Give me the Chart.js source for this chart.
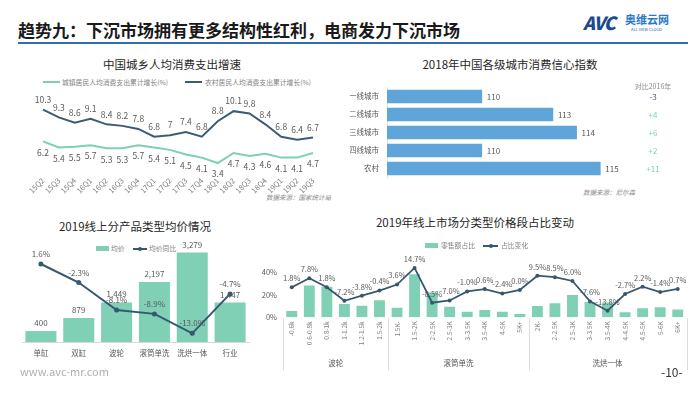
<!DOCTYPE html>
<html>
<head>
<meta charset="utf-8">
<script src="https://cdn.jsdelivr.net/npm/chart.js@4/dist/chart.umd.min.js"></script>
<style>
  body { margin: 0; width: 700px; height: 394px; position: relative; overflow: hidden; background: #fff;
         font-family: "Noto Sans CJK SC", "Noto Sans", sans-serif; color: #404040; }
  .t { position: absolute; white-space: nowrap; line-height: 1; }
  .box { position: absolute; }
  .title { font-size: 11.5px; color: #262626; text-align: center; }
  .lg { font-size: 6.8px; color: #7f7f7f; }
  .src { font-size: 6.5px; color: #8c8c8c; font-style: italic; }
  .mark { position: absolute; }
</style>
</head>
<body>
<!-- 页眉 -->
<div class="t" style="left:18px;top:21px;font-size:17px;font-weight:bold;color:#1a1a1a;">趋势九：下沉市场拥有更多结构性红利，电商发力下沉市场</div>
<div class="t" style="left:583px;top:13px;font-size:18px;font-weight:900;font-style:italic;color:#1b4a8e;letter-spacing:-1px;">AVC</div>
<div class="t" style="left:625px;top:14px;font-size:11px;font-weight:bold;color:#2a78c8;">奥维云网</div>
<div class="t" style="left:631px;top:27px;font-size:4px;color:#2a5a9a;">ALL VIEW CLOUD</div>
<div class="mark" style="left:18px;top:42px;width:670px;height:2px;background:#2f6eb5;"></div>

<!-- 图1 -->
<div class="t title" style="left:22px;top:59px;width:300px;">中国城乡人均消费支出增速</div>
<div class="mark" style="left:43px;top:81px;width:17px;height:2px;background:#7dd0b5;"></div>
<div class="t lg" style="left:62px;top:79px;">城镇居民人均消费支出累计增长(%)</div>
<div class="mark" style="left:185px;top:81px;width:17px;height:2px;background:#3d5b75;"></div>
<div class="t lg" style="left:205px;top:79px;">农村居民人均消费支出累计增长(%)</div>
<div class="t src" style="left:266px;top:194px;">数据来源：国家统计局</div>
<div class="box" style="left:0px;top:85px;width:350px;height:115px;"><canvas id="chart1"></canvas></div>

<!-- 图2 -->
<div class="t title" style="left:360px;top:59px;width:300px;">2018年中国各级城市消费信心指数</div>
<div class="t src" style="left:583px;top:189px;">数据来源：尼尔森</div>
<div class="box" style="left:340px;top:75px;width:360px;height:115px;"><canvas id="chart2"></canvas></div>

<!-- 图3 -->
<div class="t title" style="left:0px;top:221px;width:270px;">2019线上分产品类型均价情况</div>
<div class="mark" style="left:96px;top:246px;width:13px;height:5px;background:#80d0b5;"></div>
<div class="t lg" style="left:111px;top:245px;">均价</div>
<div class="mark" style="left:133px;top:248px;width:14px;height:1.5px;background:#36586f;"></div>
<div class="mark" style="left:138px;top:246.5px;width:4px;height:4px;border-radius:2px;background:#36586f;"></div>
<div class="t lg" style="left:149px;top:245px;">均价同比</div>
<div class="box" style="left:0px;top:235px;width:260px;height:130px;"><canvas id="chart3"></canvas></div>

<!-- 图4 -->
<div class="t title" style="left:325px;top:217px;width:300px;">2019年线上市场分类型价格段占比变动</div>
<div class="mark" style="left:425px;top:243px;width:13px;height:5px;background:#80d0b5;"></div>
<div class="t lg" style="left:441px;top:242px;">零售额占比</div>
<div class="mark" style="left:483px;top:245px;width:15px;height:1.5px;background:#36586f;"></div>
<div class="mark" style="left:488.5px;top:243.5px;width:4px;height:4px;border-radius:2px;background:#36586f;"></div>
<div class="t lg" style="left:501px;top:242px;">占比变化</div>
<div class="box" style="left:250px;top:250px;width:450px;height:122px;"><canvas id="chart4"></canvas></div>

<!-- 页脚 -->
<div class="t" style="left:20px;top:366px;font-size:11px;color:#b0b0b0;">www.avc-mr.com</div>
<div class="t" style="left:661px;top:366px;font-size:12px;color:#333;">-10-</div>

<script>
'use strict'

// 图1：城乡人均消费支出增速
const quarters = ['15Q2', '15Q3', '15Q4', '16Q1', '16Q2', '16Q3', '16Q4', '17Q1', '17Q2', '17Q3', '17Q4', '18Q1', '18Q2', '18Q3', '18Q4', '19Q1', '19Q2', '19Q3'];
const urbanGrowth = [6.2, 5.4, 5.5, 5.7, 5.3, 5.3, 5.7, 5.4, 5.1, 4.5, 4.1, 3.4, 4.7, 4.3, 4.6, 4.1, 4.1, 4.7];
const ruralGrowth = [10.3, 9.3, 8.6, 9.1, 8.4, 8.2, 7.8, 6.8, 7, 7.4, 6.8, 8.8, 10.1, 9.8, 8.4, 6.8, 6.4, 6.7];

// 图2：各级城市消费信心指数
const cityTiers = ['一线城市', '二线城市', '三线城市', '四线城市', '农村'];
const confidence2018 = [110, 113, 114, 110, 115];
const changeVs2016 = [-3, 4, 6, 2, 11];

// 图3：分产品类型均价
const productTypes = ['单缸', '双缸', '波轮', '滚筒单洗', '洗烘一体', '行业'];
const avgPrice = [400, 879, 1449, 2197, 3279, 1447];
const avgPriceYoY = [1.6, -2.3, -8.1, -8.9, -13.0, -4.7];

// 图4：价格段占比变动
const priceBands = ['-0.6k', '0.6-0.8k', '0.8-1k', '1-1.2k', '1.2-1.5k', '1.5-2k',
  '1.5K-', '1.5-2K', '2-2.5K', '2.5-3K', '3-3.5K', '3.5-4K', '4-5K', '5K+',
  '2K-', '2-2.5K', '2.5-3K', '3-3.5K', '3.5-4K', '4-4.5K', '4.5-5K', '5-6K', '6K+'];
const bandGroupNames = ['波轮', '滚筒单洗', '洗烘一体'];
const bandGroupSizes = [6, 8, 9];
const retailShare = [5.6, 28, 27, 11.8, 10.3, 15, 8.5, 38, 22, 9.4, 5, 6.5, 5, 3, 10, 12.4, 19.7, 13.5, 13, 4.4, 8, 8.8, 7];
const shareChange = [1.8, 7.8, 1.8, -7.2, -3.8, -0.4, 3.6, 14.7, -8.5, -7.0, -1.0, 0.6, -2.4, 0.0, 9.5, 8.5, 6.0, -7.6, -13.8, -2.7, 2.2, -1.4, 0.7];

const FONT = '"Noto Sans CJK SC", "Noto Sans", sans-serif';
const GRAY = '#595959';
const TEAL = '#80d0b5';
const NAVY = '#36586f';
Chart.defaults.font.family = FONT;
Chart.defaults.color = GRAY;

// 数据标签（没有datalabels插件，自己画）
const valueLabels = {
  id: 'valueLabels',
  afterDatasetsDraw(chart) {
    const c = chart.ctx;
    chart.data.datasets.forEach((ds, i) => {
      const lab = ds.valueLabel;
      if (!lab) return;
      const meta = chart.getDatasetMeta(i);
      c.save();
      c.font = lab.size + 'px ' + FONT;
      c.fillStyle = lab.color || GRAY;
      c.textAlign = lab.align || 'center';
      c.textBaseline = 'middle';
      meta.data.forEach((el, j) => {
        c.fillText(lab.format(ds.data[j]), el.x + (lab.dx || 0), el.y + (lab.dy || 0));
      });
      c.restore();
    });
  }
};

const noLegend = { legend: { display: false }, tooltip: { enabled: false } };

// ---- 图1 ----
new Chart(document.getElementById('chart1'), {
  type: 'line',
  data: {
    labels: quarters,
    datasets: [
      { data: ruralGrowth, borderColor: '#3d5b75', borderWidth: 2, pointRadius: 0,
        valueLabel: { size: 8.5, dy: -10, format: v => String(v) } },
      { data: urbanGrowth, borderColor: '#7dd0b5', borderWidth: 2, pointRadius: 0,
        valueLabel: { size: 8.5, dy: 11, format: v => String(v) } },
    ],
  },
  options: {
    responsive: true, maintainAspectRatio: false, animation: false,
    layout: { padding: { left: 43, right: 37, top: 13, bottom: 0 } },
    plugins: noLegend,
    scales: {
      x: {
        grid: { display: false, drawTicks: false }, border: { display: false },
        ticks: { font: { size: 7.5 }, color: '#7f7f7f', minRotation: 45, maxRotation: 45, autoSkip: false, padding: 6 },
        afterFit: s => { s.height = 30; },
      },
      y: { display: false, min: 2.5, max: 11.8 },
    },
  },
  plugins: [valueLabels],
});

// ---- 图2 ----
const changeColumn = {
  id: 'changeColumn',
  afterDatasetsDraw(chart) {
    const c = chart.ctx;
    const y = chart.scales.y;
    const x = 313;
    c.save();
    c.textAlign = 'center';
    c.textBaseline = 'middle';
    c.font = '7px ' + FONT;
    c.fillStyle = '#8c8c8c';
    c.fillText('对比2016年', x, y.getPixelForValue(0) - 10);
    c.font = '8px ' + FONT;
    changeVs2016.forEach((v, i) => {
      c.fillStyle = v < 0 ? '#3d5b75' : '#7dd0b5';
      c.fillText((v > 0 ? '+' : '') + v, x, y.getPixelForValue(i));
    });
    c.restore();
  }
};

new Chart(document.getElementById('chart2'), {
  type: 'bar',
  data: {
    labels: cityTiers,
    datasets: [{
      data: confidence2018, backgroundColor: '#5fa5d9', barThickness: 13,
      valueLabel: { size: 8, align: 'left', dx: 5, format: v => String(v) },
    }],
  },
  options: {
    indexAxis: 'y',
    responsive: true, maintainAspectRatio: false, animation: false,
    layout: { padding: { left: 10, right: 76, top: 6, bottom: 4 } },
    plugins: noLegend,
    scales: {
      x: { display: false, min: 106, max: 116 },
      y: {
        grid: { display: false, drawTicks: false }, border: { display: true, color: '#e3e3e3' },
        ticks: { font: { size: 7.5 }, color: GRAY, padding: 8 },
        afterFit: s => { s.width = 37; },
      },
    },
  },
  plugins: [valueLabels, changeColumn],
});

// ---- 图3 ----
new Chart(document.getElementById('chart3'), {
  type: 'bar',
  data: {
    labels: productTypes,
    datasets: [
      { type: 'line', data: avgPriceYoY, yAxisID: 'y2', order: 0,
        borderColor: NAVY, borderWidth: 2, pointRadius: 2.5, pointBackgroundColor: NAVY, pointBorderWidth: 0,
        valueLabel: { size: 8, dy: -10, format: v => v.toFixed(1) + '%' } },
      { data: avgPrice, backgroundColor: TEAL, order: 1, barPercentage: 0.82, categoryPercentage: 1,
        valueLabel: { size: 8, dy: -8, format: v => v.toLocaleString('en-US') } },
    ],
  },
  options: {
    responsive: true, maintainAspectRatio: false, animation: false,
    layout: { padding: { left: 22, right: 11, top: 6, bottom: 0 } },
    plugins: noLegend,
    scales: {
      x: {
        grid: { display: false, drawTicks: false }, border: { display: true, color: '#d9d9d9' },
        ticks: { font: { size: 7.5 }, color: GRAY, padding: 7 },
        afterFit: s => { s.height = 23; },
      },
      y: { display: false, min: 0, max: 3700 },
      y2: { display: false, min: -14.82, max: 6.44 },
    },
  },
  plugins: [valueLabels],
});

// ---- 图4 ----
const bandGroups = {
  id: 'bandGroups',
  afterDraw(chart) {
    const c = chart.ctx;
    const x = chart.scales.x;
    const area = chart.chartArea;
    const edge = k => k === 0 ? area.left : k === priceBands.length ? area.right
      : (x.getPixelForValue(k - 1) + x.getPixelForValue(k)) / 2;
    c.save();
    c.strokeStyle = '#dcdcdc';
    c.lineWidth = 1;
    c.font = '7.5px ' + FONT;
    c.fillStyle = GRAY;
    c.textAlign = 'center';
    c.textBaseline = 'middle';
    let start = 0;
    const drawEdge = k => {
      const px = Math.round(edge(k)) + 0.5;
      c.beginPath(); c.moveTo(px, area.bottom + 1); c.lineTo(px, area.bottom + 53); c.stroke();
    };
    drawEdge(0);
    bandGroupSizes.forEach((n, g) => {
      const end = start + n;
      drawEdge(end);
      c.fillText(bandGroupNames[g], (edge(start) + edge(end)) / 2, area.bottom + 46);
      start = end;
    });
    c.restore();
  }
};

new Chart(document.getElementById('chart4'), {
  type: 'bar',
  data: {
    labels: priceBands,
    datasets: [
      { type: 'line', data: shareChange, yAxisID: 'y2', order: 0,
        borderColor: NAVY, borderWidth: 1.8, pointRadius: 2, pointBackgroundColor: NAVY, pointBorderWidth: 0,
        valueLabel: { size: 7.5, dy: -9, format: v => v.toFixed(1) + '%' } },
      { data: retailShare, backgroundColor: TEAL, order: 1, barPercentage: 0.62, categoryPercentage: 1 },
    ],
  },
  options: {
    responsive: true, maintainAspectRatio: false, animation: false,
    layout: { padding: { left: 0, right: 13.5, top: 10.7, bottom: 0 } },
    plugins: noLegend,
    scales: {
      x: {
        grid: { display: false, drawTicks: false }, border: { display: false },
        ticks: { font: { size: 6.5 }, color: '#7f7f7f', minRotation: 90, maxRotation: 90, autoSkip: false, padding: 4 },
        afterFit: s => { s.height = 54.7; },
      },
      y: {
        min: 0, max: 50,
        grid: { display: false, drawTicks: false }, border: { display: false },
        ticks: { stepSize: 10, font: { size: 7.5 }, color: GRAY, padding: 6, callback: v => v + '%' },
        afterFit: s => { s.width = 33; },
      },
      y2: { display: false, min: -18.2, max: 19.5 },
    },
  },
  plugins: [valueLabels, bandGroups],
});
</script>
</body>
</html>
